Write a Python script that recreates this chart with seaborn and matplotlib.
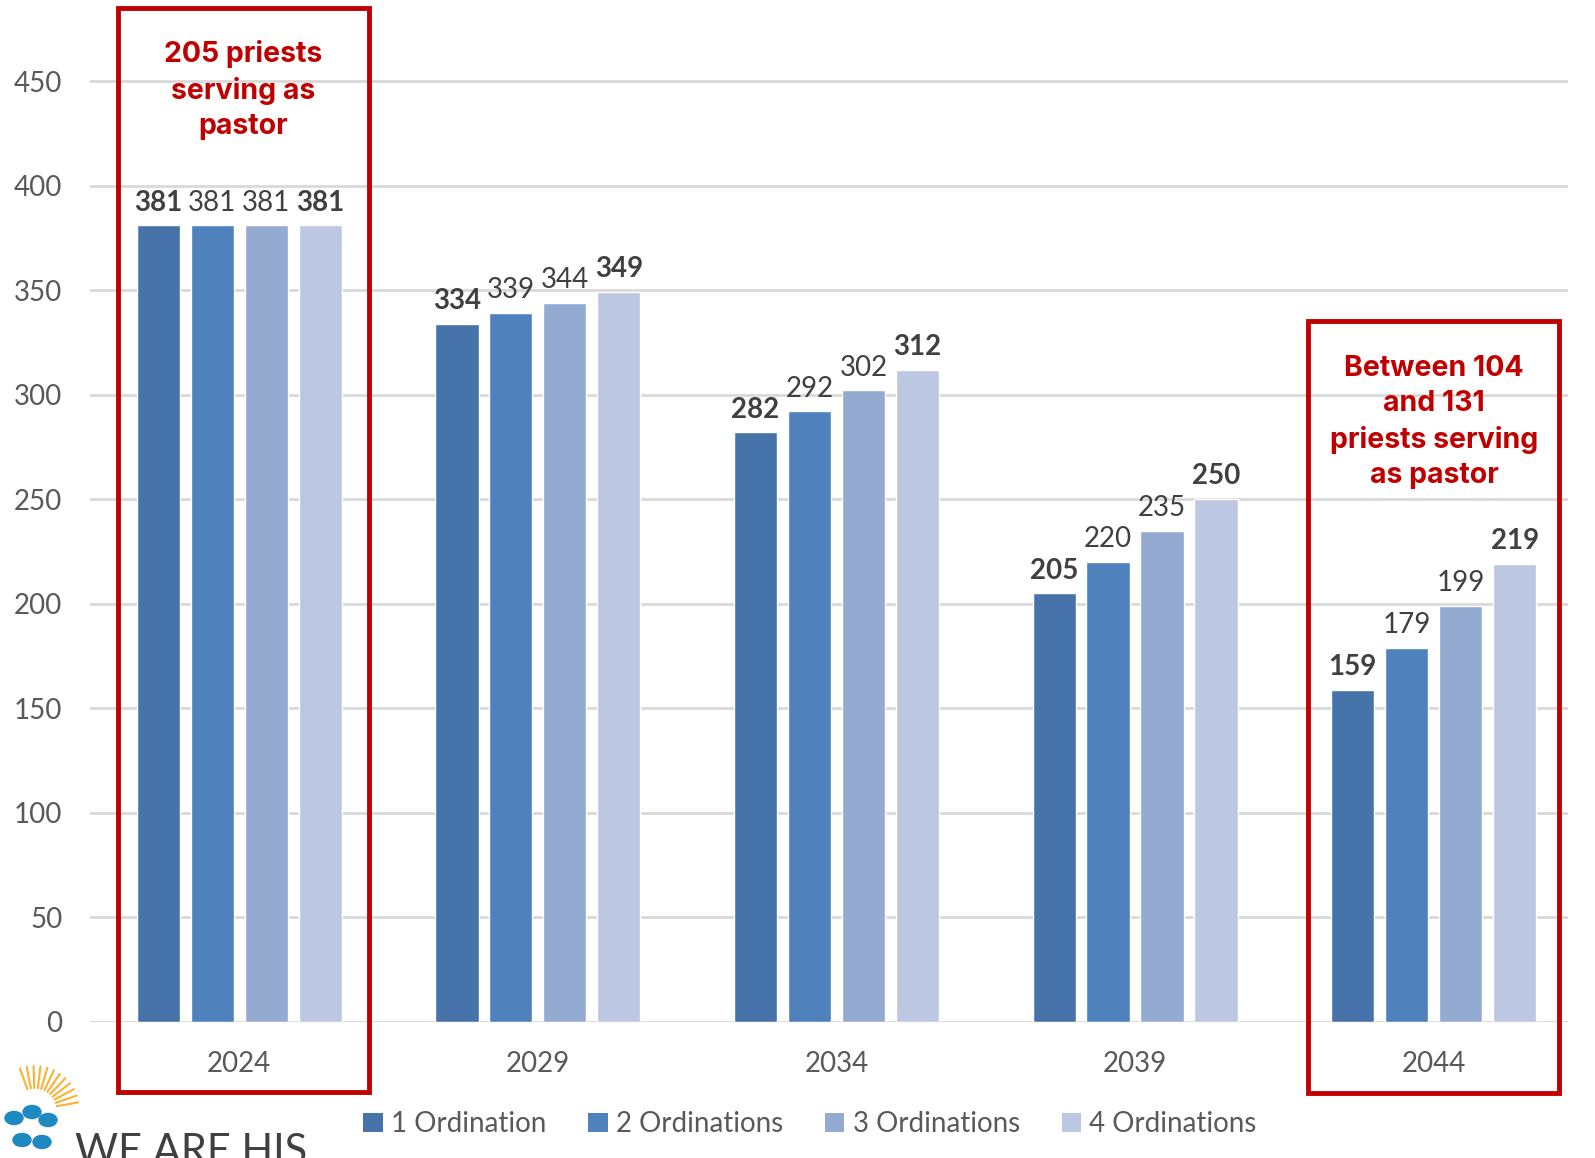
import seaborn as sns
import numpy as np
import pandas as pd
import matplotlib.pyplot as plt
from matplotlib.patches import Patch, Rectangle

# data
years = ['2024', '2029', '2034', '2039', '2044']
series = ['1 Ordination', '2 Ordinations', '3 Ordinations', '4 Ordinations']
one_ord = [381, 334, 282, 205, 159]
two_ord = [381, 339, 292, 220, 179]
three_ord = [381, 344, 302, 235, 199]
four_ord = [381, 349, 312, 250, 219]
colors = ['#4674AA', '#4F81BD', '#95AAD1', '#BCC8E2']

df = pd.DataFrame({
    'Year': years * 4,
    'Series': np.repeat(series, len(years)),
    'Priests': one_ord + two_ord + three_ord + four_ord,
})

sns.set_style('white')
plt.rcParams['font.family'] = ['Lato', 'DejaVu Sans']

W, H = 1595, 1158
fig = plt.figure(figsize=(W / 100, H / 100), dpi=100)
ax = fig.add_axes([90 / W, (H - 1022) / H, (1568 - 90) / W, 1022 / H])

sns.barplot(data=df, x='Year', y='Priests', hue='Series', palette=colors,
            width=0.723, gap=0.2, ax=ax, legend=False, saturation=1)

ax.set_ylim(0, 1022 / (941 / 450))
ax.set_xlim(-0.5, 4.45)
ax.set_yticks(range(0, 451, 50))
ax.yaxis.grid(True, color='#D9D9D9', linewidth=2)
ax.set_axisbelow(True)
for s in ax.spines.values():
    s.set_visible(False)
ax.axhline(0, color='#D9D9D9', linewidth=2, zorder=0)
ax.set_xlabel('')
ax.set_ylabel('')
ax.tick_params(axis='y', labelsize=20, labelcolor='#595959', length=0, pad=20)
ax.tick_params(axis='x', labelsize=20, labelcolor='#595959', length=0, pad=21)

# value labels, series 1 and 4 in bold
for i, cont in enumerate(ax.containers):
    labels = ax.bar_label(cont, fmt='%d', padding=7, fontsize=20, color='#404040')
    for t in labels:
        t.set_fontweight('bold' if i in (0, 3) else 'normal')

# red boxes
def px_box(x0, y0, x1, y1):
    r = Rectangle((x0 / W, 1 - y1 / H), (x1 - x0) / W, (y1 - y0) / H,
                  transform=fig.transFigure, fill=False, edgecolor='#C00000',
                  linewidth=3.5, zorder=10)
    fig.patches.append(r)

px_box(118, 8, 369, 1092)
px_box(1308, 321, 1559, 1093)

red_font = ['Inter', 'DejaVu Sans']
fig.text(243 / W, 1 - 90 / H, '205 priests\nserving as\npastor', ha='center', va='center',
         fontsize=20.5, fontweight='bold', color='#C00000', family=red_font, linespacing=1.4)
fig.text(1434 / W, 1 - 422 / H, 'Between 104\nand 131\npriests serving\nas pastor', ha='center',
         va='center', fontsize=20.5, fontweight='bold', color='#C00000', family=red_font,
         linespacing=1.4)

# legend
handles = [Patch(facecolor=c, edgecolor='none') for c in colors]
fig.legend(handles, series, loc='center', bbox_to_anchor=(810 / W, 1 - 1124 / H), ncol=4,
           frameon=False, fontsize=20, labelcolor='#595959', handlelength=0.7,
           handleheight=0.7, handletextpad=0.3, columnspacing=1.5)

# logo, cut at the bottom edge
fig.text(75 / W, 1 - 1133 / H, 'WE ARE HIS', ha='left', va='top', fontsize=30,
         color='#404040', family=['Lato', 'DejaVu Sans'])
for cx, cy in [(14, 1118), (32, 1112), (48, 1120), (22, 1140), (42, 1142)]:
    fig.patches.append(plt.Circle((cx / W, 1 - cy / H), 9 / W, transform=fig.transFigure,
                                  color='#1E88C0', zorder=5))
for ang in np.linspace(10, 110, 12):
    a = np.deg2rad(ang)
    x0, y0 = 35 + 22 * np.cos(a), 1110 - 22 * np.sin(a)
    x1, y1 = 35 + 44 * np.cos(a), 1110 - 44 * np.sin(a)
    fig.lines.append(plt.Line2D([x0 / W, x1 / W], [1 - y0 / H, 1 - y1 / H],
                                transform=fig.transFigure, color='#F9B233', linewidth=1.5))

fig.savefig('out.png', dpi=100)
